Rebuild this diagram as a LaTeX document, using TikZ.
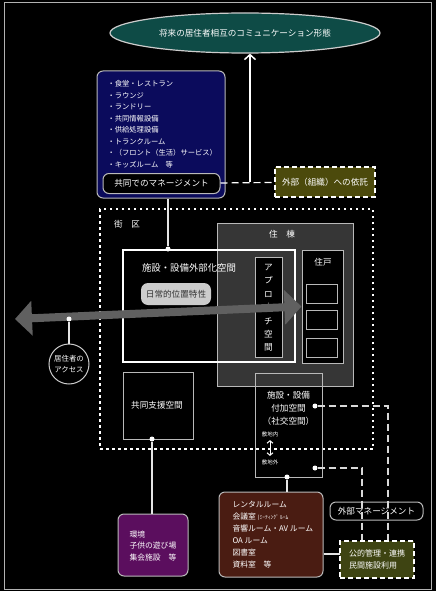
\documentclass[tikz,border=0pt]{standalone}
\usepackage{fontspec}
\setmainfont{Noto Sans CJK JP}
\usetikzlibrary{shapes.geometric,arrows.meta}
\definecolor{tealfill}{HTML}{0E4B46}
\definecolor{navyfill}{HTML}{0B0B5C}
\definecolor{olivefill}{HTML}{4C4A0C}
\definecolor{greenfill}{HTML}{3E4412}
\definecolor{plumfill}{HTML}{5B0E5E}
\definecolor{brownfill}{HTML}{4A1C12}
\definecolor{blockfill}{HTML}{363636}

\begin{document}
\begin{tikzpicture}[x=1pt, y=-1pt,
        conn/.style={draw=gray!20, line width=1.1pt},
        joint/.style={circle, fill=white, inner sep=0pt, minimum size=5pt},
        box/.style={draw=gray!55, line width=1pt, inner sep=0pt},
        roundbox/.style={box, rounded corners=6pt},
        dashbox/.style={draw=white, line width=1.6pt, dash pattern=on 5pt off 3pt, inner sep=0pt},
        dashconn/.style={draw=gray!30, line width=1.2pt, dash pattern=on 7pt off 4pt},
        txt/.style={text=white, font=\fontsize{8.6}{13}\selectfont},
        smalltxt/.style={text=white, font=\fontsize{7.6}{12}\selectfont},
        tinytxt/.style={text=white, font=\fontsize{5.5}{6}\selectfont}
    ]
    \useasboundingbox (0,0) rectangle (436,591);
    \fill[black] (0,0) rectangle (436,591);
    \draw[gray!60, line width=0.8pt] (4,2) rectangle (431,589);

    % block area and dwelling building
    \node[draw=white, line width=2.4pt, dash pattern=on 2.5pt off 3.5pt, minimum width=273pt, minimum height=240pt] (district) at (236.5,329) {};
    \node[txt] (districtname) at (127,224) {街　区};
    \node[box, fill=blockfill, minimum width=136pt, minimum height=163pt] (building) at (285,304.5) {};
    \node[txt] (buildingname) at (282,234) {住　棟};

    % externalised facilities space
    \node[draw=white, line width=2.2pt, minimum width=172pt, minimum height=112pt] (extspace) at (209,306) {};
    \node[txt, font=\fontsize{9.4}{12}\selectfont] (extname) at (189,268) {施設・設備外部化空間};
    \node[fill=gray!40, rounded corners=7pt, text=black!80, font=\fontsize{8.6}{10}\selectfont, minimum width=70pt, minimum height=22pt, inner sep=0pt] (daily) at (176,294) {日常的位置特性};
    \node[box, fill=black, minimum width=27pt, minimum height=100pt] (approach) at (268.5,307) {};
    \node[txt, align=center, font=\fontsize{8.6}{13.4}\selectfont] (approachname) at (268.5,308) {ア\\プ\\ロ\\｜\\チ\\空\\間};

    % dwelling units
    \node[box, fill=black, minimum width=41pt, minimum height=113pt] (dwelling) at (322.5,306.5) {};
    \node[txt] (dwellingname) at (323,262) {住戸};
    \foreach \y in {293.5, 320, 347.5}
        \node[box, minimum width=31pt, minimum height=19pt] at (321.5,\y) {};

    % social space
    \node[box, minimum width=67pt, minimum height=104pt] (social) at (288.5,425) {};
    \node[txt, align=center] (socialname) at (288.5,408) {施設・設備\\付加空間\\（社交空間）};
    \node[tinytxt] (inside) at (270,434) {敷地内};
    \node[tinytxt] (outside) at (270,462) {敷地外};
    \draw[white, line width=1pt, {Straight Barb[length=2.5pt,width=6pt]}-{Straight Barb[length=2.5pt,width=6pt]}] (inside) -- (outside);
    \node[joint] (indot) at (315,406) {};
    \node[joint] (outdot) at (315,468) {};
    \node[joint] (socdot) at (287,477) {};

    % residents' access
    \coordinate (westend) at (15,319);
    \draw[gray!75!black, line width=8pt, {Triangle[length=17pt,width=34pt]}-{Triangle[length=17pt,width=34pt]}] (westend) -- (dwelling.west);
    \node[joint] (accdot) at (69,319) {};
    \node[circle, draw=gray!40, line width=1pt, fill=black, minimum size=40pt, inner sep=0pt, align=center, text=white, font=\fontsize{7.4}{11}\selectfont] (access) at (69,364) {居住者の\\アクセス};
    \draw[conn] (accdot) -- (access);

    % support space
    \node[box, minimum width=70pt, minimum height=67pt] (support) at (158,405.5) {};
    \node[txt] (supportname) at (157,405) {共同支援空間};
    \node[joint] (supdot) at (152,439) {};
    \node[roundbox, fill=plumfill, minimum width=70pt, minimum height=62pt] (kids) at (153,545) {};
    \node[smalltxt, font=\fontsize{7.8}{11.6}\selectfont, align=left, anchor=north west] (kidslist) at (126,527) {環境\\子供の遊び場\\集会施設　等};
    \draw[conn] (supdot) -- (supdot |- kids.north);

    % rental rooms and outside management
    \node[roundbox, fill=brownfill, minimum width=104pt, minimum height=85pt] (rental) at (271,534.5) {};
    \node[smalltxt, font=\fontsize{7.8}{12}\selectfont, align=left, anchor=north west] (rentallist) at (229,498) {レンタルルーム\\会議室 {\fontsize{5.5}{6}\selectfont (ﾐｰﾃｨﾝｸﾞ ﾙｰﾑ}\\音響ルーム・AV ルーム\\OA ルーム\\図書室\\資料室　等};
    \draw[conn] (socdot) -- (socdot |- rental.north);
    \node[dashbox, fill=greenfill, minimum width=74pt, minimum height=37pt, align=left, text=white, font=\fontsize{8}{12}\selectfont] (public) at (377,559.5) {公的管理・連携\\民間施設利用};
    \coordinate (publink) at (340,554);
    \draw[conn] (rental.east |- publink) -- (publink);
    \node[roundbox, fill=black, minimum width=93pt, minimum height=18pt, txt] (extmgmt) at (376.5,511) {外部マネージメント};
    \draw[dashconn] (indot) -| ([xshift=11pt]public.north);
    \draw[dashconn] (outdot) -| ([xshift=-15pt]public.north);

    % shared facilities and the goal
    \node[ellipse, draw=gray!40, line width=1.2pt, fill=tealfill, minimum width=270pt, minimum height=40pt, inner sep=0pt, txt] (vision) at (245,33) {将来の居住者相互のコミュニケーション形態};
    \node[roundbox, fill=navyfill, minimum width=128pt, minimum height=127pt] (commons) at (161,134.5) {};
    \node[smalltxt, font=\fontsize{7.3}{11.5}\selectfont, align=left, anchor=north west] (commonslist) at (104,77) {・食堂・レストラン\\・ラウンジ\\・ランドリー\\・共同情報設備\\・供給処理設備\\・トランクルーム\\・（フロント（生活）サービス）\\・キッズルーム　等};
    \node[roundbox, fill=black, minimum width=117pt, minimum height=20pt, txt] (mgmt) at (161.5,183.5) {共同でのマネージメント};
    \node[dashbox, fill=olivefill, minimum width=100pt, minimum height=30pt, txt] (outsource) at (325,182) {外部（組織）への依託};
    \coordinate (split) at (250,182);
    \draw[dashconn, draw=white] (mgmt) -- (outsource);
    \draw[white, line width=1.5pt, -{Straight Barb[length=5pt,width=11pt]}] (split) -- (split |- vision.south);
    \node[joint] (extdot) at (168,249) {};
    \draw[conn] (commons.south -| extdot) -- (extdot);
\end{tikzpicture}
\end{document}
